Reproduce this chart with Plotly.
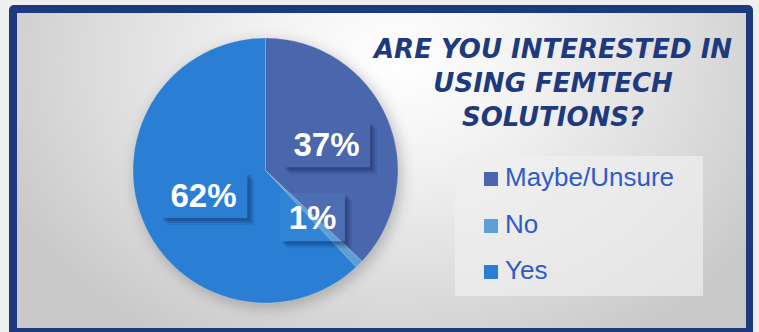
import base64
import math

import plotly.graph_objects as go

# ---- data -------------------------------------------------------------
categories = ["Maybe/Unsure", "No", "Yes"]
shares = [37, 1, 62]
slice_colors = ["#4a66ac", "#5f9fd6", "#2a7fd5"]
title_lines = ["ARE YOU INTERESTED IN", "USING FEMTECH", "SOLUTIONS?"]

# ---- canvas geometry (pixels) ----------------------------------------
W, H = 759, 332
PIE_CX, PIE_CY, PIE_R = 265.5, 170.5, 132.5


def px(x):
    return x / W


def py(y):
    return 1 - y / H


# ---- background: frame, soft radial fill, pie shadow, legend panel ----
svg = f"""<svg xmlns="http://www.w3.org/2000/svg" width="{W}" height="{H}" viewBox="0 0 {W} {H}" preserveAspectRatio="none">
<defs>
<radialGradient id="bg" gradientUnits="userSpaceOnUse" cx="0" cy="0" r="1"
  gradientTransform="translate(395,60) scale(430,330)">
<stop offset="0" stop-color="#ffffff"/>
<stop offset="0.3" stop-color="#f3f3f3"/>
<stop offset="0.7" stop-color="#dcdcdc"/>
<stop offset="1" stop-color="#c9c9c9"/>
</radialGradient>
<filter id="soft" x="-30%" y="-30%" width="160%" height="160%"><feGaussianBlur stdDeviation="7"/></filter>
</defs>
<rect width="{W}" height="{H}" fill="#efefef"/>
<rect x="9" y="5" width="744" height="345" rx="5" fill="#1c3a7d"/>
<rect x="17" y="13" width="729" height="315" fill="url(#bg)"/>
<circle cx="{PIE_CX + 3}" cy="{PIE_CY + 4}" r="{PIE_R + 1}" fill="#000" fill-opacity="0.22" filter="url(#soft)"/>
<rect x="455" y="156" width="248" height="140" fill="#f0f0f0" fill-opacity="0.7"/>
</svg>"""
bg_uri = "data:image/svg+xml;base64," + base64.b64encode(svg.encode()).decode()

fig = go.Figure(
    go.Pie(
        labels=categories,
        values=shares,
        sort=False,
        direction="clockwise",
        rotation=0,
        marker=dict(colors=slice_colors,
                    line=dict(color="rgba(255,255,255,0.3)", width=0.6)),
        textinfo="none",
        hoverinfo="label+percent",
        showlegend=False,
        domain=dict(x=[px(PIE_CX - PIE_R), px(PIE_CX + PIE_R)],
                    y=[py(PIE_CY + PIE_R), py(PIE_CY - PIE_R)]),
    )
)

shapes = []
annotations = []


def shadow_path(left, top, right, bottom, off):
    """L-shaped drop shadow that sits only outside the label box."""
    pts = [(right, top + off), (right + off, top + off), (right + off, bottom + off),
           (left + off, bottom + off), (left + off, bottom), (right, bottom)]
    return "M " + " L ".join(f"{px(x):.5f},{py(y):.5f}" for x, y in pts) + " Z"


# ---- percentage labels: boxes at half radius on each slice's mid-angle ----
total = sum(shares)
cum = 0
box_sizes = {0: (87, 46), 1: (65, 48), 2: (87, 46)}
box_fill = {0: slice_colors[0], 1: "rgba(95,159,214,0.15)", 2: slice_colors[2]}
for i, v in enumerate(shares):
    mid = (cum + v / 2) / total * 2 * math.pi
    cum += v
    cx = PIE_CX + 0.5 * PIE_R * math.sin(mid)
    cy = PIE_CY - 0.5 * PIE_R * math.cos(mid)
    bw, bh = box_sizes[i]
    left, right, top, bottom = cx - bw / 2, cx + bw / 2, cy - bh / 2, cy + bh / 2
    # soft drop shadow, built from a few stacked translucent strips
    for off, op in ((7, 0.10), (5, 0.16), (3, 0.22)):
        shapes.append(dict(
            type="path", xref="paper", yref="paper", layer="above",
            path=shadow_path(left, top, right, bottom, off),
            fillcolor="#0d1f4a", opacity=op, line=dict(width=0),
        ))
    annotations.append(dict(
        x=px(cx), y=py(cy), xref="paper", yref="paper",
        xanchor="center", yanchor="middle", showarrow=False,
        text=f"{round(v / total * 100)}%",
        width=bw, height=bh, borderpad=0, borderwidth=0,
        bgcolor=box_fill[i],
        font=dict(family="Liberation Sans, Arial", size=33, color="white",
                  weight="bold"),
    ))

# ---- title ------------------------------------------------------------
annotations.append(dict(
    x=px(552), y=py(32), xref="paper", yref="paper",
    xanchor="center", yanchor="top", showarrow=False, align="center",
    text="<br>".join(title_lines),
    font=dict(family="DejaVu Sans", size=26, color="#1e3a7e", weight="bold",
              style="italic"),
))

# ---- legend -----------------------------------------------------------
row_y = [179, 226, 272]
for name, col, y in zip(categories, slice_colors, row_y):
    shapes.append(dict(
        type="rect", xref="paper", yref="paper", layer="above",
        x0=px(484), x1=px(498), y0=py(y + 7), y1=py(y - 7),
        fillcolor=col, line=dict(width=0),
    ))
    annotations.append(dict(
        x=px(503), y=py(y - 2), xref="paper", yref="paper",
        xanchor="left", yanchor="middle", showarrow=False,
        text=name,
        font=dict(family="Liberation Sans, Arial", size=26, color="#2e5bc8"),
    ))

fig.update_layout(
    width=W, height=H,
    margin=dict(l=0, r=0, t=0, b=0),
    paper_bgcolor="rgba(0,0,0,0)",
    plot_bgcolor="rgba(0,0,0,0)",
    images=[dict(source=bg_uri, xref="paper", yref="paper", x=0, y=1,
                 sizex=1, sizey=1, xanchor="left", yanchor="top",
                 sizing="stretch", layer="below")],
    shapes=shapes,
    annotations=annotations,
)

fig.write_html("out.html")
